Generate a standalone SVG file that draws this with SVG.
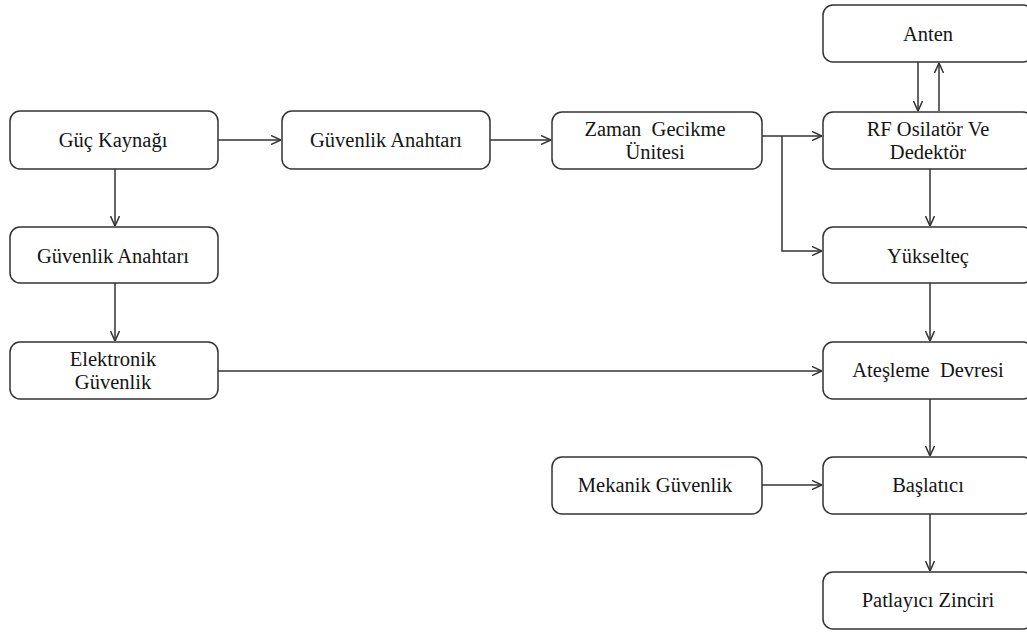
<svg xmlns="http://www.w3.org/2000/svg" width="1027" height="633" viewBox="0 0 1027 633">
<style>
.box{fill:#fff;stroke:#333;stroke-width:1.5}
.t{font-family:"Liberation Serif","Times New Roman",serif;font-size:20.5px;fill:#141414;text-anchor:middle;dominant-baseline:central}
.c{fill:none;stroke:#333;stroke-width:1.5}
</style>
<defs>
<marker id="a" viewBox="0 0 10 10" refX="10" refY="5" markerWidth="10" markerHeight="10" markerUnits="userSpaceOnUse" orient="auto">
<polyline points="0,0.5 10,5 0,9.5" fill="none" stroke="#333" stroke-width="1.5"/>
</marker>
</defs>
<rect width="1027" height="633" fill="#fff"/>
<g id="connectors">
<line class="c" x1="218" y1="140" x2="281" y2="140" marker-end="url(#a)"/>
<line class="c" x1="490" y1="140" x2="551" y2="140" marker-end="url(#a)"/>
<line class="c" x1="115" y1="169" x2="115" y2="226" marker-end="url(#a)"/>
<line class="c" x1="115" y1="283" x2="115" y2="341" marker-end="url(#a)"/>
<line class="c" x1="218" y1="371" x2="822" y2="371" marker-end="url(#a)"/>
<line class="c" x1="762" y1="136" x2="822" y2="136" marker-end="url(#a)"/>
<polyline class="c" points="782,136 782,251 822,251" marker-end="url(#a)"/>
<line class="c" x1="918" y1="62" x2="918" y2="111" marker-end="url(#a)"/>
<line class="c" x1="939" y1="111" x2="939" y2="63" marker-end="url(#a)"/>
<line class="c" x1="930" y1="169" x2="930" y2="226" marker-end="url(#a)"/>
<line class="c" x1="930" y1="283" x2="930" y2="341" marker-end="url(#a)"/>
<line class="c" x1="930" y1="399" x2="930" y2="456" marker-end="url(#a)"/>
<line class="c" x1="762" y1="485" x2="822" y2="485" marker-end="url(#a)"/>
<line class="c" x1="930" y1="514" x2="930" y2="571" marker-end="url(#a)"/>
</g>
<g id="guc"><rect class="box" x="10" y="111" width="208" height="58" rx="10"/><text class="t" x="113" y="140">Güç Kaynağı</text></g>
<g id="guvenlik1"><rect class="box" x="10" y="227" width="208" height="56" rx="10"/><text class="t" x="113" y="256">Güvenlik Anahtarı</text></g>
<g id="elektronik"><rect class="box" x="10" y="342" width="208" height="57" rx="10"/><text class="t" x="113" y="359">Elektronik</text><text class="t" x="113" y="382">Güvenlik</text></g>
<g id="guvenlik2"><rect class="box" x="282" y="111" width="208" height="58" rx="10"/><text class="t" x="386" y="140">Güvenlik Anahtarı</text></g>
<g id="zaman"><rect class="box" x="552" y="112" width="210" height="57" rx="10"/><text class="t" x="655" y="129" xml:space="preserve">Zaman  Gecikme</text><text class="t" x="655" y="152">Ünitesi</text></g>
<g id="anten"><rect class="box" x="823" y="5" width="210" height="57" rx="10"/><text class="t" x="928" y="34">Anten</text></g>
<g id="rf"><rect class="box" x="823" y="112" width="210" height="57" rx="10"/><text class="t" x="928" y="129">RF Osilatör Ve</text><text class="t" x="928" y="152">Dedektör</text></g>
<g id="yukseltec"><rect class="box" x="823" y="227" width="210" height="56" rx="10"/><text class="t" x="928" y="256">Yükselteç</text></g>
<g id="atesleme"><rect class="box" x="823" y="342" width="210" height="57" rx="10"/><text class="t" x="928" y="370" xml:space="preserve">Ateşleme  Devresi</text></g>
<g id="mekanik"><rect class="box" x="552" y="457" width="210" height="57" rx="10"/><text class="t" x="655" y="485">Mekanik Güvenlik</text></g>
<g id="baslatici"><rect class="box" x="823" y="457" width="210" height="57" rx="10"/><text class="t" x="928" y="485">Başlatıcı</text></g>
<g id="patlayici"><rect class="box" x="823" y="572" width="210" height="57" rx="10"/><text class="t" x="928" y="600">Patlayıcı Zinciri</text></g>
</svg>
